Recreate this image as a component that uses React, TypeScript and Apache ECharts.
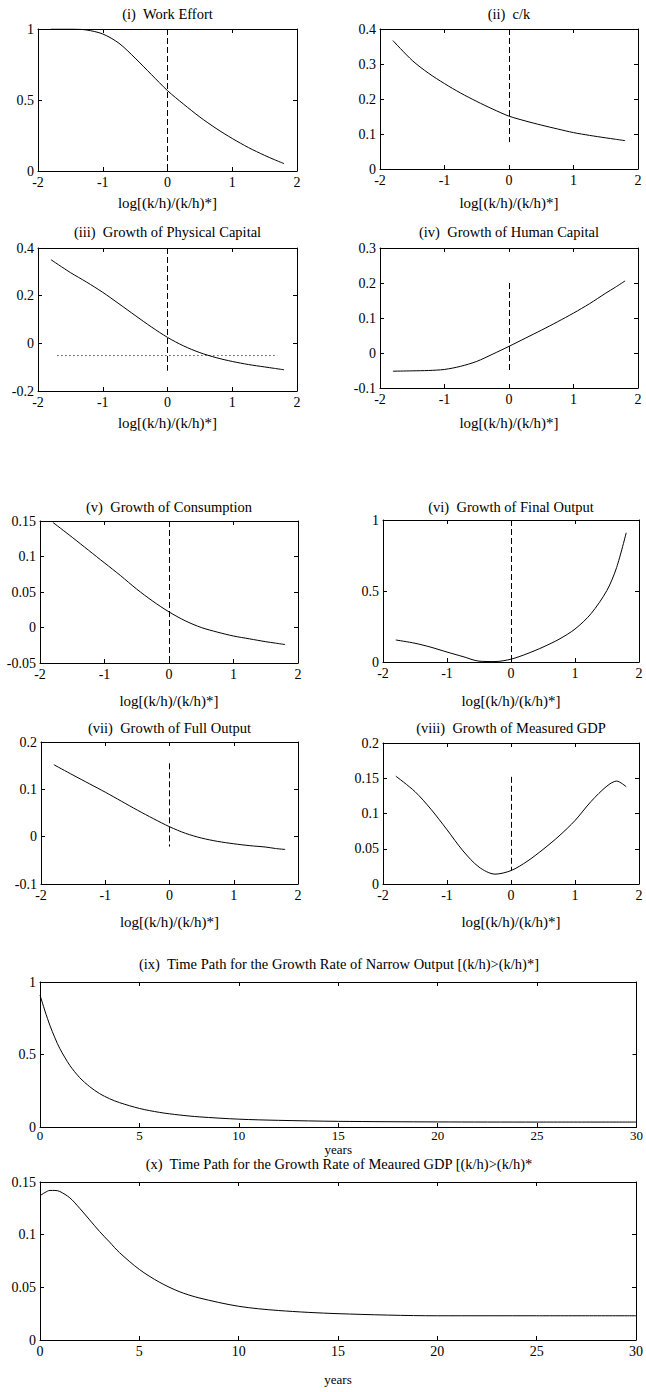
import React, { useEffect, useRef } from "react";
import * as echarts from "echarts";

// ---- data ----
const XS = [-1.8, -1.5, -1.25, -1, -0.75, -0.5, -0.25, 0, 0.25, 0.5, 0.75, 1, 1.25, 1.5, 1.65, 1.8];
const workEffort = [1.0, 1.0, 0.993, 0.965, 0.9, 0.795, 0.68, 0.566, 0.47, 0.38, 0.3, 0.229, 0.165, 0.11, 0.08, 0.052];
const cOverK = [0.367, 0.31, 0.274, 0.244, 0.217, 0.193, 0.171, 0.151, 0.1375, 0.1255, 0.1145, 0.104, 0.096, 0.089, 0.085, 0.081];
const physicalGrowth = [0.351, 0.297, 0.257, 0.214, 0.166, 0.117, 0.069, 0.025, -0.011, -0.039, -0.06, -0.076, -0.089, -0.099, -0.105, -0.111];
const humanGrowth = [-0.052, -0.051, -0.05, -0.047, -0.038, -0.024, -0.003, 0.019, 0.042, 0.065, 0.089, 0.114, 0.141, 0.171, 0.188, 0.206];
const consumptionGrowth = [0.148, 0.127, 0.109, 0.091, 0.073, 0.054, 0.037, 0.022, 0.0095, 0.0, -0.0065, -0.012, -0.016, -0.02, -0.022, -0.024];
const finalOutputGrowth = [0.155, 0.132, 0.104, 0.07, 0.038, 0.006, 0.003, 0.02, 0.058, 0.105, 0.16, 0.232, 0.34, 0.505, 0.665, 0.91];
const fullOutputGrowth = [0.152, 0.13, 0.112, 0.094, 0.075, 0.056, 0.038, 0.021, 0.007, -0.003, -0.01, -0.015, -0.019, -0.022, -0.025, -0.027];
const measuredGdpGrowth = [0.153, 0.131, 0.106, 0.077, 0.047, 0.024, 0.014, 0.019, 0.032, 0.049, 0.068, 0.09, 0.117, 0.139, 0.146, 0.138];

const YEARS = [0, 0.25, 0.5, 0.75, 1, 1.5, 2, 2.5, 3, 3.5, 4, 5, 6, 7, 8, 10, 12, 15, 20, 25, 30];
const narrowOutputPath = [0.91, 0.8, 0.7, 0.615, 0.54, 0.425, 0.34, 0.278, 0.23, 0.195, 0.168, 0.128, 0.101, 0.083, 0.07, 0.054, 0.046, 0.039, 0.035, 0.034, 0.034];
const measuredGdpPath = [0.137, 0.14, 0.142, 0.142, 0.141, 0.135, 0.125, 0.114, 0.103, 0.093, 0.083, 0.067, 0.055, 0.046, 0.04, 0.032, 0.028, 0.025, 0.023, 0.023, 0.023];

const titles = [
  "(i)  Work Effort",
  "(ii)  c/k",
  "(iii)  Growth of Physical Capital",
  "(iv)  Growth of Human Capital",
  "(v)  Growth of Consumption",
  "(vi)  Growth of Final Output",
  "(vii)  Growth of Full Output",
  "(viii)  Growth of Measured GDP",
  "(ix)  Time Path for the Growth Rate of Narrow Output [(k/h)>(k/h)*]",
  "(x)  Time Path for the Growth Rate of Meaured GDP [(k/h)>(k/h)*",
];
const logAxisName = "log[(k/h)/(k/h)*]";
const yearsAxisName = "years";

const FONT = "'Liberation Serif', 'DejaVu Serif', serif";

type Panel = {
  title: string;
  l: number; t: number; w: number; h: number;
  titleY: number;
  xs: number[]; ys: number[];
  xmin: number; xmax: number; xint: number;
  ymin: number; ymax: number; yint: number;
  xname: string; nameGap: number; nameSize: number; xTickSize: number; xTickMargin: number;
  vline?: [number, number];
  hline?: [number, number, number];
};

const panels: Panel[] = [
  { title: titles[0], l: 38, t: 29, w: 259, h: 142, titleY: 14, xs: XS, ys: workEffort, xmin: -2, xmax: 2, xint: 1, ymin: 0, ymax: 1, yint: 0.5, xname: logAxisName, nameGap: 24, nameSize: 15, xTickSize: 14, xTickMargin: 4, vline: [1, 0] },
  { title: titles[1], l: 380, t: 29, w: 258, h: 140, titleY: 14, xs: XS, ys: cOverK, xmin: -2, xmax: 2, xint: 1, ymin: 0, ymax: 0.4, yint: 0.1, xname: logAxisName, nameGap: 26, nameSize: 15, xTickSize: 14, xTickMargin: 4, vline: [0.4, 0.077] },
  { title: titles[2], l: 38, t: 248, w: 259, h: 143, titleY: 232, xs: XS, ys: physicalGrowth, xmin: -2, xmax: 2, xint: 1, ymin: -0.2, ymax: 0.4, yint: 0.2, xname: logAxisName, nameGap: 24, nameSize: 15, xTickSize: 14, xTickMargin: 4, vline: [0.4, -0.115], hline: [-1.7, 1.7, -0.048] },
  { title: titles[3], l: 380, t: 248, w: 258, h: 140, titleY: 232, xs: XS, ys: humanGrowth, xmin: -2, xmax: 2, xint: 1, ymin: -0.1, ymax: 0.3, yint: 0.1, xname: logAxisName, nameGap: 27, nameSize: 15, xTickSize: 14, xTickMargin: 4, vline: [0.2, -0.05] },
  { title: titles[4], l: 40, t: 521, w: 258, h: 142, titleY: 507, xs: XS, ys: consumptionGrowth, xmin: -2, xmax: 2, xint: 1, ymin: -0.05, ymax: 0.15, yint: 0.05, xname: logAxisName, nameGap: 30, nameSize: 15, xTickSize: 14, xTickMargin: 4, vline: [0.15, -0.05] },
  { title: titles[5], l: 383, t: 520, w: 256, h: 142, titleY: 507, xs: XS, ys: finalOutputGrowth, xmin: -2, xmax: 2, xint: 1, ymin: 0, ymax: 1, yint: 0.5, xname: logAxisName, nameGap: 31, nameSize: 15, xTickSize: 14, xTickMargin: 4, vline: [1, 0] },
  { title: titles[6], l: 41, t: 742, w: 257, h: 142, titleY: 728, xs: XS, ys: fullOutputGrowth, xmin: -2, xmax: 2, xint: 1, ymin: -0.1, ymax: 0.2, yint: 0.1, xname: logAxisName, nameGap: 30, nameSize: 15, xTickSize: 14, xTickMargin: 4, vline: [0.155, -0.021] },
  { title: titles[7], l: 383, t: 743, w: 256, h: 141, titleY: 728, xs: XS, ys: measuredGdpGrowth, xmin: -2, xmax: 2, xint: 1, ymin: 0, ymax: 0.2, yint: 0.05, xname: logAxisName, nameGap: 30, nameSize: 15, xTickSize: 14, xTickMargin: 4, vline: [0.152, 0.019] },
  { title: titles[8], l: 40, t: 982, w: 598, h: 145, titleY: 964, xs: YEARS, ys: narrowOutputPath, xmin: 0, xmax: 30, xint: 5, ymin: 0, ymax: 1, yint: 0.5, xname: yearsAxisName, nameGap: 16, nameSize: 13, xTickSize: 13, xTickMargin: 2 },
  { title: titles[9], l: 40, t: 1182, w: 598, h: 158, titleY: 1164, xs: YEARS, ys: measuredGdpPath, xmin: 0, xmax: 30, xint: 5, ymin: 0, ymax: 0.15, yint: 0.05, xname: yearsAxisName, nameGap: 33, nameSize: 13, xTickSize: 14, xTickMargin: 4 },
];

const BLACK = "#000";
const lineStyle = { color: BLACK, width: 1 };

function buildOption() {
  const grid: any[] = [];
  const xAxis: any[] = [];
  const yAxis: any[] = [];
  const series: any[] = [];
  const graphic: any[] = [];

  panels.forEach((p, i) => {
    grid.push({ left: p.l, top: p.t, width: p.w, height: p.h, containLabel: false });
    const common = {
      gridIndex: i,
      type: "value",
      splitLine: { show: false },
      axisLine: { show: true, onZero: false, lineStyle },
      axisTick: { show: true, inside: true, length: 4, lineStyle },
    };
    xAxis.push({
      ...common,
      position: "bottom",
      min: p.xmin, max: p.xmax, interval: p.xint,
      axisLabel: { color: BLACK, fontFamily: FONT, fontSize: p.xTickSize, margin: p.xTickMargin, showMinLabel: true, showMaxLabel: true },
      name: p.xname,
      nameLocation: "middle",
      nameGap: p.nameGap,
      nameTextStyle: { color: BLACK, fontFamily: FONT, fontSize: p.nameSize },
    });
    xAxis.push({
      ...common,
      position: "top",
      min: p.xmin, max: p.xmax, interval: p.xint,
      axisLabel: { show: false },
    });
    yAxis.push({
      ...common,
      position: "left",
      min: p.ymin, max: p.ymax, interval: p.yint,
      axisLabel: { color: BLACK, fontFamily: FONT, fontSize: 14, margin: 4, showMinLabel: true, showMaxLabel: true },
    });
    yAxis.push({
      ...common,
      position: "right",
      min: p.ymin, max: p.ymax, interval: p.yint,
      axisLabel: { show: false },
    });

    const markData: any[] = [];
    if (p.vline) {
      markData.push([
        { coord: [0, p.vline[0]], lineStyle: { color: BLACK, width: 1, type: [6, 3] } },
        { coord: [0, p.vline[1]] },
      ]);
    }
    if (p.hline) {
      markData.push([
        { coord: [p.hline[0], p.hline[2]], lineStyle: { color: BLACK, width: 1, type: [1, 3] } },
        { coord: [p.hline[1], p.hline[2]] },
      ]);
    }

    series.push({
      type: "line",
      xAxisIndex: i * 2,
      yAxisIndex: i * 2,
      data: p.xs.map((x, k) => [x, p.ys[k]]),
      showSymbol: false,
      symbol: "none",
      smooth: 0.3,
      lineStyle: { color: BLACK, width: 1 },
      markLine: markData.length
        ? { silent: true, symbol: ["none", "none"], label: { show: false }, data: markData }
        : undefined,
    });

    graphic.push({
      type: "text",
      x: p.l + p.w / 2,
      y: p.titleY,
      style: {
        text: p.title,
        fill: BLACK,
        font: `14.5px ${FONT}`,
        textAlign: "center",
        textVerticalAlign: "middle",
        align: "center",
        verticalAlign: "middle",
      },
    });
  });

  return {
    animation: false,
    backgroundColor: "#fff",
    grid,
    xAxis,
    yAxis,
    series,
    graphic,
  };
}

export default function App() {
  const ref = useRef<HTMLDivElement>(null);
  useEffect(() => {
    if (!ref.current) return;
    const chart = echarts.init(ref.current, undefined, { renderer: "svg" });
    chart.setOption(buildOption() as any);
    return () => chart.dispose();
  }, []);
  return (
    <div
      ref={ref}
      style={{ position: "absolute", left: 0, top: 0, width: 646, height: 1392, background: "#fff" }}
    />
  );
}
